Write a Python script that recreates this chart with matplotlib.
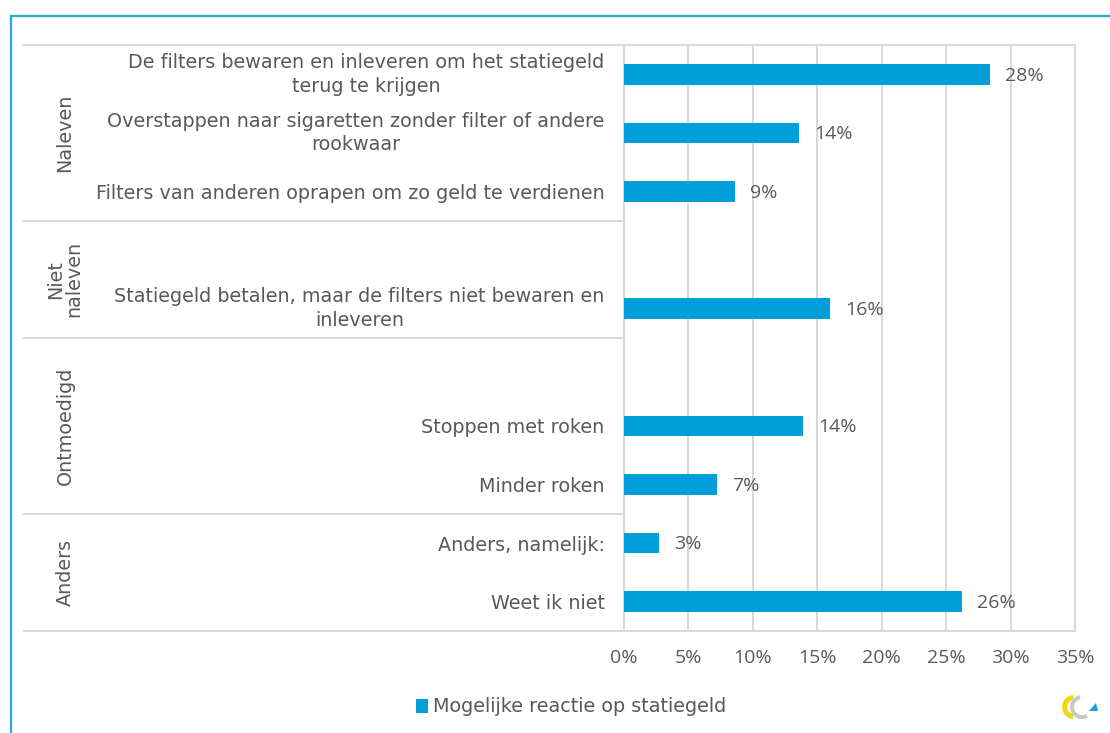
import matplotlib
matplotlib.use("Agg")
import matplotlib.pyplot as plt
import matplotlib.transforms as mtransforms
from matplotlib.patches import Wedge, Polygon, Rectangle
from matplotlib.lines import Line2D

# ---------------- data ----------------
categories = [
    "De filters bewaren en inleveren om het statiegeld\nterug te krijgen",
    "Overstappen naar sigaretten zonder filter of andere\nrookwaar",
    "Filters van anderen oprapen om zo geld te verdienen",
    "",
    "Statiegeld betalen, maar de filters niet bewaren en\ninleveren",
    "",
    "Stoppen met roken",
    "Minder roken",
    "Anders, namelijk:",
    "Weet ik niet",
]
values = [28.4, 13.6, 8.6, None, 16.0, None, 13.9, 7.2, 2.7, 26.2]
groups = ["Naleven", "Niet\nnaleven", "Ontmoedigd", "Anders"]
group_sizes = [3, 2, 3, 2]
series_name = "Mogelijke reactie op statiegeld"
xticks = [0, 5, 10, 15, 20, 25, 30, 35]
xtick_labels = ["0%", "5%", "10%", "15%", "20%", "25%", "30%", "35%"]

# ---------------- style ----------------
W, H = 1110, 733
TXT_FONT = "DejaVu Sans"
NUM_FONT = "Open Sans"
TXT = "#595959"
BAR = "#009FDA"
GRID = "#D9D9D9"
FS_TXT = 13.8
FS_NUM = 14

plt.rcParams["font.family"] = [TXT_FONT]

fig = plt.figure(figsize=(W / 100, H / 100), dpi=100)
fig.patch.set_facecolor("white")

ax_l, ax_r, ax_t, ax_b = 624, 1075, 45, 631
ax = fig.add_axes([ax_l / W, 1 - ax_b / H, (ax_r - ax_l) / W, (ax_b - ax_t) / H])

ypos = list(range(len(categories)))
bx = [v if v is not None else 0 for v in values]
ax.barh(ypos, bx, height=0.35, color=BAR, zorder=3)
for y, v in zip(ypos, values):
    if v is None:
        continue
    ax.annotate(f"{round(v):d}%", (v, y), xytext=(11, -1), textcoords="offset points",
                ha="left", va="center", fontsize=FS_NUM, color=TXT, family=NUM_FONT)

ax.set_xlim(0, 35)
ax.set_ylim(len(categories) - 0.5, -0.5)
ax.set_xticks(xticks)
ax.set_xticklabels(xtick_labels, family=NUM_FONT, fontsize=FS_NUM, color=TXT)
ax.set_yticks(ypos)
ax.set_yticklabels(categories, family=TXT_FONT, fontsize=FS_TXT, color=TXT)
for lbl in ax.get_yticklabels():
    lbl.set_multialignment("center")
    if "\n" in lbl.get_text():
        lbl.set_verticalalignment("center")
        lbl.set_linespacing(1.3)
ax.tick_params(axis="y", length=0, pad=14)
ax.tick_params(axis="x", length=0, pad=13)
ax.grid(axis="x", color=GRID, linewidth=1.5, zorder=0)
ax.set_axisbelow(True)
for s in ["top", "right", "left", "bottom"]:
    ax.spines[s].set_color(GRID)
    ax.spines[s].set_linewidth(1.5)
ax.spines["bottom"].set_visible(False)
ax.spines["top"].set_visible(False)

# table-like separators extending to the left
trans = mtransforms.blended_transform_factory(ax.transAxes, ax.transData)
x_left = (24 - ax_l) / (ax_r - ax_l)
bounds = [-0.5]
acc = -0.5
for g in group_sizes:
    acc += g
    bounds.append(acc)
for i, b in enumerate(bounds):
    xr = 1.0 if i in (0, len(bounds) - 1) else 0.0
    ax.add_line(Line2D([x_left, xr], [b, b], transform=trans, color=GRID,
                       linewidth=1.5, clip_on=False, zorder=1))

# group labels
x_grp = (65 - ax_l) / (ax_r - ax_l)
start = -0.5
for g, n in zip(groups, group_sizes):
    mid = start + n / 2
    ax.text(x_grp, mid, g, transform=trans, rotation=90, ha="center", va="center",
            fontsize=FS_TXT, color=TXT, multialignment="center", linespacing=0.95)
    start += n

# legend
handle = Rectangle((0, 0), 1, 1, facecolor=BAR, edgecolor="none")
fig.legend([handle], [series_name], loc="center", bbox_to_anchor=(571 / W, 1 - 707 / H),
           frameon=False, prop={"family": TXT_FONT, "size": FS_TXT}, labelcolor=TXT,
           handlelength=0.6, handleheight=0.7, handletextpad=0.25)

# outer blue frame
fig.add_artist(Line2D([11 / W, 1.0], [1 - 16 / H, 1 - 16 / H], transform=fig.transFigure,
                      color="#29A8E0", linewidth=1.6))
fig.add_artist(Line2D([11 / W, 11 / W], [1 - 16 / H, 0.0], transform=fig.transFigure,
                      color="#29A8E0", linewidth=1.6))

# small logo
lax = fig.add_axes([1058 / W, 1 - 722 / H, 44 / W, 30 / H])
lax.set_xlim(0, 44)
lax.set_ylim(0, 30)
lax.set_aspect("equal")
lax.axis("off")
lax.add_patch(Wedge((16, 15), 12, 95, 265, width=5, facecolor="#F2D70F"))
lax.add_patch(Wedge((24, 15), 12, 100, 300, width=4, facecolor="#C8C8C8"))
lax.add_patch(Polygon([[31, 11], [40, 11], [38, 19]], closed=True, facecolor="#1E9BE0"))

fig.savefig("out.png", dpi=100, facecolor="white")
